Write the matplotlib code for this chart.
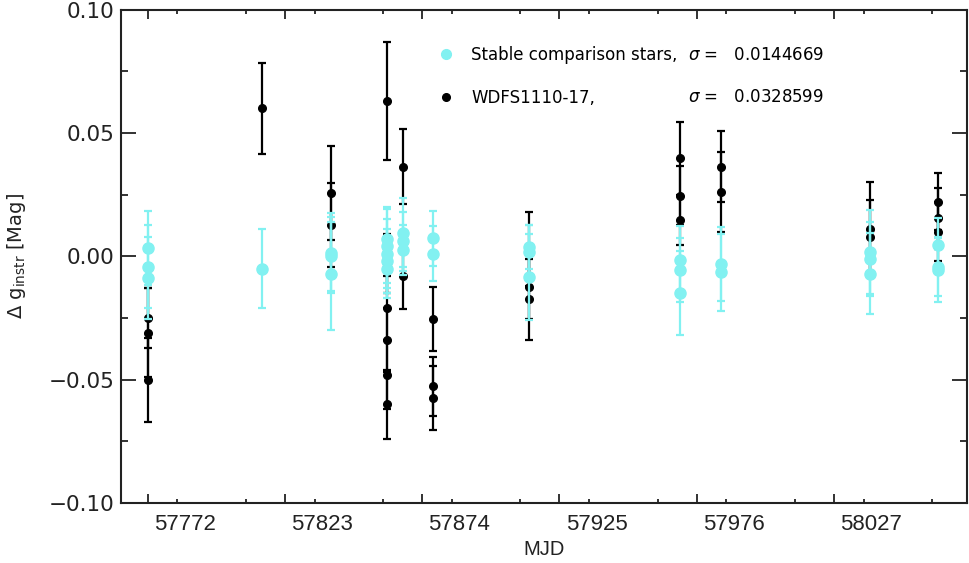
import numpy as np
import matplotlib.pyplot as plt
import matplotlib.transforms as mtransforms
from matplotlib.ticker import MultipleLocator, FixedLocator
from matplotlib.lines import Line2D

# Stable comparison stars (MJD, delta mag, error)
comp_mjd = [57772.2, 57772.2, 57772.2,
            57814.6,
            57840.0, 57840.0, 57840.0,
            57860.8, 57860.8, 57860.8, 57860.8, 57860.8,
            57866.7, 57866.7, 57866.7,
            57878.0, 57878.0,
            57913.8, 57913.8, 57913.8,
            57969.8, 57969.8, 57969.8,
            57984.9, 57984.9,
            58040.4, 58040.4, 58040.4,
            58065.8, 58065.8, 58065.8]
comp_mag = [0.0035, -0.0043, -0.0087,
            -0.0050,
            0.0014, 0.0000, -0.0070,
            0.0070, 0.0040, 0.0010, -0.0020, -0.0050,
            0.0095, 0.0060, 0.0025,
            0.0072, 0.0011,
            0.0038, 0.0018, -0.0084,
            -0.0016, -0.0057, -0.0149,
            -0.0030, -0.0064,
            0.0018, -0.0010, -0.0070,
            0.0045, -0.0043, -0.0057]
comp_err = [0.0150, 0.0168, 0.0167,
            0.0160,
            0.0162, 0.0140, 0.0230,
            0.0130, 0.0150, 0.0140, 0.0130, 0.0120,
            0.0140, 0.0120, 0.0100,
            0.0110, 0.0110,
            0.0090, 0.0110, 0.0173,
            0.0140, 0.0130, 0.0170,
            0.0150, 0.0156,
            0.0170, 0.0150, 0.0163,
            0.0110, 0.0120, 0.0130]

# WDFS1110-17
wd_mjd = [57772.2, 57772.2, 57772.2,
          57814.6,
          57840.0, 57840.0,
          57860.8, 57860.8, 57860.8, 57860.8, 57860.8, 57860.8,
          57866.7, 57866.7,
          57878.0, 57878.0, 57878.0,
          57913.8, 57913.8, 57913.8,
          57969.8, 57969.8, 57969.8,
          57984.9, 57984.9,
          58040.4, 58040.4,
          58065.8, 58065.8, 58065.8]
wd_mag = [-0.0250, -0.0310, -0.0500,
          0.0600,
          0.0255, 0.0126,
          0.0630, -0.0030, -0.0210, -0.0340, -0.0480, -0.0600,
          0.0363, -0.0080,
          -0.0253, -0.0527, -0.0575,
          0.0030, -0.0125, -0.0175,
          0.0397, 0.0245, 0.0146,
          0.0363, 0.0261,
          0.0112, 0.0076,
          0.0221, 0.0153, 0.0099]
wd_err = [0.0120, 0.0180, 0.0170,
          0.0185,
          0.0190, 0.0170,
          0.0240, 0.0120, 0.0130, 0.0130, 0.0140, 0.0140,
          0.0152, 0.0133,
          0.0130, 0.0120, 0.0130,
          0.0150, 0.0130, 0.0164,
          0.0149, 0.0120, 0.0100,
          0.0145, 0.0163,
          0.0190, 0.0152,
          0.0115, 0.0122, 0.0120]

comp_sigma = 0.0144669
wd_sigma = 0.0328599
xtick_vals = [57772, 57823, 57874, 57925, 57976, 58027]
ytick_vals = [-0.10, -0.05, 0.00, 0.05, 0.10]

cyan = '#82f1f1'
frame = '#222222'

fig = plt.figure(figsize=(9.69, 5.63), dpi=100)
ax = fig.add_axes([0.1249, 0.1066, 0.8727, 0.8765])

ax.errorbar(wd_mjd, wd_mag, yerr=wd_err, fmt='o', color='black', ms=5.5,
            elinewidth=1.6, capsize=3.2, capthick=1.6, zorder=2)
ax.errorbar(comp_mjd, comp_mag, yerr=comp_err, fmt='o', color=cyan, ms=8,
            elinewidth=1.6, capsize=3.2, capthick=1.6, zorder=3)

ax.set_xlim(57762.1, 58076.3)
ax.set_ylim(-0.10, 0.10)

ax.xaxis.set_major_locator(FixedLocator(xtick_vals))
ax.xaxis.set_minor_locator(MultipleLocator(25.5))
ax.set_xticks(xtick_vals)
ax.set_xticklabels([str(v) for v in xtick_vals], family='Liberation Sans', fontsize=16)
ax.set_yticks(ytick_vals)
ax.set_yticklabels([f'{v:.2f}'.replace('-', '\u2212') for v in ytick_vals], fontsize=15.5)
ax.yaxis.set_minor_locator(MultipleLocator(0.025))

ax.tick_params(axis='x', which='major', direction='in', length=6.5, width=1.3,
               top=True, pad=8, colors=frame)
ax.tick_params(axis='x', which='minor', direction='in', length=3.2, width=1.3,
               top=True, colors=frame)
ax.tick_params(axis='y', which='major', direction='in', length=10.5, width=1.3,
               right=True, pad=5, colors=frame)
ax.tick_params(axis='y', which='minor', direction='in', length=5, width=1.3,
               right=True, colors=frame)
for sp in ax.spines.values():
    sp.set_linewidth(1.5)
    sp.set_color(frame)

# x tick labels sit to the right of their tick marks in the original
offset = mtransforms.ScaledTranslation(0.37, 0, fig.dpi_scale_trans)
for tick in ax.xaxis.get_major_ticks():
    tick.label1.set_transform(tick.label1.get_transform() + offset)

ax.set_xlabel('MJD', family='Liberation Sans', fontsize=14.5, color=frame)
ax.xaxis.set_label_coords(0.5, -0.074)
ax.set_ylabel('\u0394 g$_{\\mathrm{instr}}$ [Mag]', fontsize=14, color=frame)
ax.yaxis.set_label_coords(-0.110, 0.5)

handles = [Line2D([], [], ls='none', marker='o', color=cyan, ms=7),
           Line2D([], [], ls='none', marker='o', color='black', ms=5.5)]
ax.legend(handles, ['Stable comparison stars,', 'WDFS1110-17,'],
          loc='upper left', bbox_to_anchor=(0.3748, 0.9255), frameon=False,
          fontsize=12, handlelength=1.0, handletextpad=1.0,
          labelspacing=1.5, borderpad=0, borderaxespad=0)
ax.text(0.671, 0.9078, f'$\\sigma$ =   {comp_sigma}', transform=ax.transAxes,
        fontsize=12, va='center', ha='left')
ax.text(0.671, 0.8227, f'$\\sigma$ =   {wd_sigma}', transform=ax.transAxes,
        fontsize=12, va='center', ha='left')

fig.savefig('out.png', dpi=100)
